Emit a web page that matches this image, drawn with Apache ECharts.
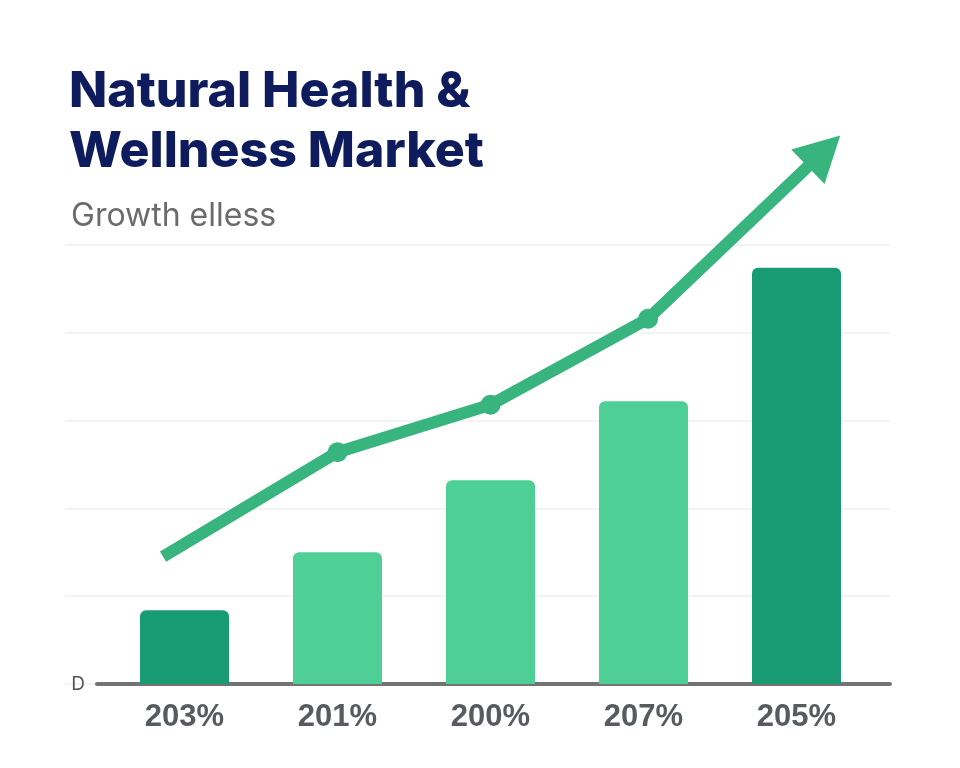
<!DOCTYPE html>
<html>
<head>
<meta charset="utf-8">
<script src="https://cdn.jsdelivr.net/npm/echarts@6/dist/echarts.min.js"></script>
<style>
  html, body { margin: 0; padding: 0; background: #ffffff; }
  #chart { width: 960px; height: 768px; }
</style>
</head>
<body>
<div id="chart"></div>
<script>
// ---- data ----
var categories = ['203%', '201%', '200%', '207%', '205%'];
var barValues = [0.84, 1.5, 2.32, 3.22, 4.74];
var barShades = ['dark', 'light', 'light', 'light', 'dark'];
var trendX = [-0.14, 1.0, 2.0, 3.03, 4.18];
var trendY = [1.45, 2.64, 3.18, 4.16, 6.07];
var yTickLabels = ['D', '', '', '', '', ''];

var titleText = 'Natural Health &\nWellness Market';
var subtitleText = 'Growth elless';

var COLORS = { dark: '#189a72', light: '#4dcf96', line: '#38b47f' };

var barData = barValues.map(function (v, i) {
  return { value: v, itemStyle: { color: COLORS[barShades[i]] } };
});

var lineData = trendX.map(function (x, i) {
  var item = { value: [x, trendY[i]] };
  if (i === 0) {
    item.symbol = 'none';
  } else if (i === trendX.length - 1) {
    item.symbol = 'triangle';
    item.symbolSize = [48, 45];
    item.symbolRotate = -46;
  } else {
    item.symbol = 'circle';
    item.symbolSize = 20;
  }
  return item;
});

var chart = echarts.init(document.getElementById('chart'));
chart.setOption({
  backgroundColor: '#ffffff',
  animation: false,
  title: [
    {
      text: titleText,
      left: 64, top: 57,
      textStyle: { fontFamily: 'Inter', fontSize: 50, fontWeight: 800, color: '#0e1b5c', lineHeight: 60 }
    },
    {
      text: subtitleText,
      left: 66, top: 195,
      textStyle: { fontFamily: 'Inter', fontSize: 32, fontWeight: 400, color: '#6b6b6b' }
    }
  ],
  grid: [
    { left: 108, right: 87, top: 245, bottom: 84 },
    { left: 65, right: 70, top: 245, bottom: 84 },
    { left: 97, right: 70, top: 245, bottom: 84 }
  ],
  xAxis: [
    {
      type: 'category', gridIndex: 0, data: categories,
      axisLine: { show: false }, axisTick: { show: false },
      axisLabel: { margin: 18, fontFamily: 'Liberation Sans', fontWeight: 'bold', fontSize: 31, color: '#575b60' }
    },
    { type: 'value', gridIndex: 1, show: false, min: 0, max: 1 },
    {
      type: 'value', gridIndex: 2, min: 0, max: 1,
      axisLine: { show: true, onZero: false, lineStyle: { color: '#737373', width: 4 } },
      axisTick: { show: false }, axisLabel: { show: false }, splitLine: { show: false }
    },
    { type: 'value', gridIndex: 0, show: false, min: -0.5, max: 4.5 }
  ],
  yAxis: [
    {
      type: 'value', gridIndex: 0, min: 0, max: 5, interval: 1,
      axisLine: { show: false }, axisTick: { show: false }, axisLabel: { show: false }, splitLine: { show: false }
    },
    {
      type: 'value', gridIndex: 1, min: 0, max: 5, interval: 1,
      axisLine: { show: false }, axisTick: { show: false }, axisLabel: { show: false },
      splitLine: { show: true, lineStyle: { color: '#efefef', width: 1.5 } }
    },
    {
      type: 'value', gridIndex: 2, min: 0, max: 5, interval: 1,
      axisLine: { show: false }, axisTick: { show: false }, splitLine: { show: false },
      axisLabel: {
        margin: 12, fontFamily: 'Inter', fontSize: 19, color: '#555555',
        formatter: function (v) { return yTickLabels[Math.round(v)] || ''; }
      }
    }
  ],
  series: [
    {
      type: 'bar', xAxisIndex: 0, yAxisIndex: 0,
      data: barData, barWidth: 89,
      itemStyle: { borderRadius: [6, 6, 0, 0] },
      z: 2
    },
    {
      type: 'line', xAxisIndex: 3, yAxisIndex: 0,
      data: lineData, clip: false,
      lineStyle: { color: COLORS.line, width: 12, cap: 'butt', join: 'round' },
      itemStyle: { color: COLORS.line, borderWidth: 0 },
      z: 5
    }
  ]
});
</script>
</body>
</html>
